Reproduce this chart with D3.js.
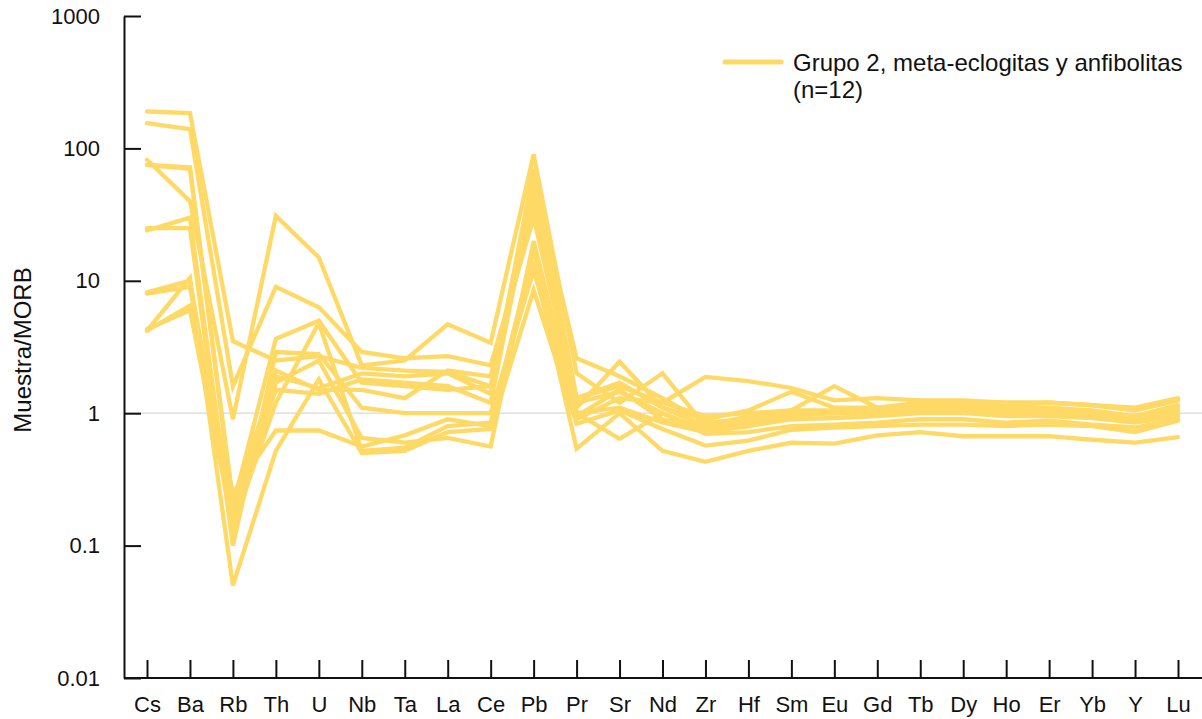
<!DOCTYPE html>
<html>
<head>
<meta charset="utf-8">
<script src="https://cdn.jsdelivr.net/npm/d3@7"></script>
<style>
  html, body { margin: 0; padding: 0; background: #fff; }
  svg { display: block; font-family: "Liberation Sans", Arial, sans-serif; }
</style>
</head>
<body>
<svg id="chart" width="1202" height="719"></svg>
<script>
const elements = ["Cs","Ba","Rb","Th","U","Nb","Ta","La","Ce","Pb","Pr","Sr","Nd","Zr","Hf","Sm","Eu","Gd","Tb","Dy","Ho","Er","Yb","Y","Lu"];
const yTicks = [0.01, 0.1, 1, 10, 100, 1000];
const yTickLabels = ["0.01", "0.1", "1", "10", "100", "1000"];
const legendLines = ["Grupo 2, meta-eclogitas y anfibolitas", "(n=12)"];
const yTitle = "Muestra/MORB";

const sample01 = [190, 185, 3.5, 2.5, 2.7, 2.2, 2.1, 2.05, 1.6, 60, 2.6, 1.9, 1.3, 0.85, 0.9, 1.0, 1.0, 1.05, 1.1, 1.15, 1.1, 1.1, 1.05, 0.95, 1.15];
const sample02 = [155, 140, 1.6, 9, 6.3, 2.9, 2.6, 2.7, 2.3, 30, 1.2, 1.45, 1.0, 0.75, 0.8, 0.95, 1.0, 1.0, 1.05, 1.05, 1.0, 1.0, 1.0, 0.9, 1.0];
const sample03 = [82, 40, 0.9, 31, 15, 2.3, 2.5, 4.7, 3.4, 90, 2.0, 1.2, 2.0, 0.8, 0.95, 1.05, 1.6, 1.1, 1.2, 1.2, 1.15, 1.2, 1.15, 1.1, 1.3];
const sample04 = [75, 72, 0.2, 3.65, 5.0, 1.7, 1.6, 1.5, 1.6, 40, 1.1, 2.45, 1.1, 0.9, 1.05, 1.45, 1.1, 1.1, 1.15, 1.2, 1.2, 1.2, 1.15, 1.05, 1.25];
const sample05 = [25, 25, 0.1, 2.9, 2.8, 1.1, 1.0, 1.0, 1.0, 12, 0.9, 1.3, 1.2, 1.88, 1.75, 1.55, 1.25, 1.3, 1.25, 1.25, 1.2, 1.2, 1.15, 1.05, 1.25];
const sample06 = [8.2, 10, 0.15, 2.1, 1.5, 1.5, 1.3, 2.1, 1.9, 35, 1.3, 1.6, 1.2, 0.95, 1.0, 1.05, 1.05, 1.05, 1.1, 1.1, 1.05, 1.05, 1.0, 0.95, 1.1];
const sample07 = [4.2, 10.5, 0.05, 0.52, 1.8, 0.5, 0.52, 0.72, 0.76, 8.5, 0.83, 1.05, 0.76, 0.57, 0.62, 0.75, 0.78, 0.8, 0.82, 0.82, 0.8, 0.82, 0.8, 0.72, 0.88];
const sample08 = [4.2, 6.5, 0.25, 0.74, 0.74, 0.56, 0.68, 0.9, 0.8, 14, 0.54, 1.0, 0.52, 0.43, 0.52, 0.6, 0.59, 0.68, 0.72, 0.67, 0.67, 0.67, 0.63, 0.6, 0.66];
const sample09 = [24, 30, 0.12, 1.7, 2.5, 0.65, 0.6, 0.65, 0.56, 20, 1.0, 0.64, 1.0, 0.7, 0.72, 0.8, 0.82, 0.85, 0.9, 0.9, 0.85, 0.88, 0.82, 0.78, 0.9];
const sample10 = [8, 9, 0.18, 1.5, 1.4, 1.8, 1.7, 1.6, 1.2, 50, 1.0, 1.1, 0.85, 0.72, 0.8, 0.9, 0.92, 0.95, 1.0, 1.0, 0.95, 0.95, 0.92, 0.85, 0.95];
const sample11 = [4.3, 6, 0.14, 1.2, 4.8, 0.52, 0.55, 0.8, 0.85, 17, 0.95, 1.5, 0.9, 0.75, 0.85, 1.0, 1.0, 1.0, 1.05, 1.05, 1.0, 1.0, 0.98, 0.88, 1.0];
const sample12 = [75, 70, 0.22, 1.9, 1.55, 2.0, 1.9, 2.0, 1.4, 70, 1.3, 1.7, 1.1, 0.8, 0.85, 1.0, 1.0, 1.0, 1.05, 1.05, 1.0, 1.05, 1.0, 0.9, 1.05];
const samples = [sample01, sample02, sample03, sample04, sample05, sample06, sample07, sample08, sample09, sample10, sample11, sample12];

const lineColor = "#FFD966";
const svg = d3.select("#chart");

const x = d3.scalePoint().domain(elements).range([147, 1178]);
const y = d3.scaleLog().domain([0.01, 1000]).range([678, 16]);
const plotLeft = 124, plotRight = 1202, plotBottom = 678;

// gridline at 1
svg.append("line")
  .attr("x1", plotLeft).attr("x2", plotRight)
  .attr("y1", y(1)).attr("y2", y(1))
  .attr("stroke", "#d9d9d9").attr("stroke-width", 1.2);

// lines
const line = d3.line().x((d, i) => x(elements[i])).y(d => y(d));
svg.append("g").selectAll("path").data(samples).join("path")
  .attr("d", d => line(d))
  .attr("fill", "none")
  .attr("stroke", lineColor)
  .attr("stroke-width", 4.3)
  .attr("stroke-linejoin", "miter")
  .attr("stroke-linecap", "round");

// y axis
const yAxis = d3.axisLeft(y).tickValues(yTicks)
  .tickFormat((d, i) => yTickLabels[i])
  .tickSize(-17).tickSizeOuter(0).tickPadding(24);
const gy = svg.append("g").attr("transform", `translate(${plotLeft},0)`).call(yAxis);
gy.select(".domain").attr("stroke", "#111").attr("stroke-width", 2);
gy.selectAll(".tick line").attr("stroke", "#111").attr("stroke-width", 2);
gy.selectAll(".tick text").attr("font-size", 22).attr("fill", "#111")
  .attr("font-family", "Liberation Sans, Arial, sans-serif");

// x axis
const xAxis = d3.axisBottom(x).tickSize(-18).tickSizeOuter(0).tickPadding(18);
const gx = svg.append("g").attr("transform", `translate(0,${plotBottom})`).call(xAxis);
gx.select(".domain").attr("d", `M${plotLeft},0H${plotRight}`).attr("stroke", "#111").attr("stroke-width", 2);
gx.selectAll(".tick line").attr("stroke", "#111").attr("stroke-width", 2);
gx.selectAll(".tick text").attr("font-size", 22).attr("fill", "#111")
  .attr("font-family", "Liberation Sans, Arial, sans-serif");

// y title
svg.append("text")
  .attr("transform", "translate(31,350) rotate(-90)")
  .attr("text-anchor", "middle")
  .attr("font-size", 24).attr("fill", "#111")
  .text(yTitle);

// legend
const lg = svg.append("g");
lg.append("line").attr("x1", 725).attr("x2", 781).attr("y1", 62).attr("y2", 62)
  .attr("stroke", lineColor).attr("stroke-width", 5).attr("stroke-linecap", "round");
lg.selectAll("text").data(legendLines).join("text")
  .attr("x", 793).attr("y", (d, i) => 71 + i * 27)
  .attr("font-size", 24).attr("fill", "#111")
  .text(d => d);
</script>
</body>
</html>
